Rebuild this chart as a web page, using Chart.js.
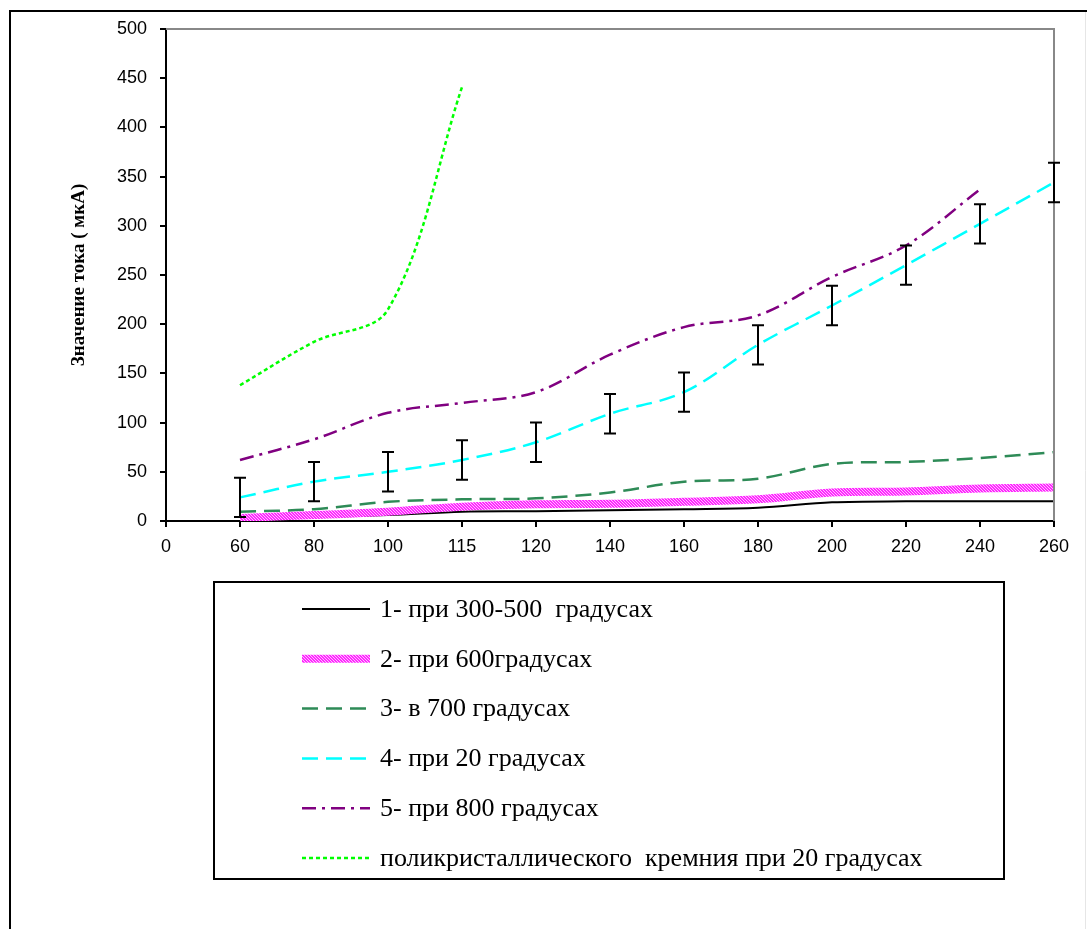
<!DOCTYPE html>
<html>
<head>
<meta charset="utf-8">
<script src="https://cdn.jsdelivr.net/npm/chart.js@4.4.1/dist/chart.umd.min.js"></script>
<style>
  body { margin: 0; background: #fff; }
  #wrap { width: 1087px; height: 929px; }
</style>
</head>
<body>
<div id="wrap"><canvas id="myChart" width="1087" height="929"></canvas></div>
<script>
// x categories (evenly spaced, as in the original)
const labels = ['0', '60', '80', '100', '115', '120', '140', '160', '180', '200', '220', '240', '260']
const yTicks = [0, 50, 100, 150, 200, 250, 300, 350, 400, 450, 500]

const curve1 = [null, 3, 4, 6, 9.5, 10, 11, 12, 13.5, 19, 20, 20, 20]
const curve2 = [null, 3, 6, 9.5, 14.5, 17, 17.5, 19.5, 22, 29, 30, 33, 34]
const curve3 = [null, 9.5, 12, 19.5, 22, 23, 29, 40, 43, 58, 60, 64, 70]
const curve4 = [null, 24, 40, 50, 62, 80, 109, 131, 179, 219, 260, 302, 344]
const curve4Err = [null, 20, 20, 20, 20, 20, 20, 20, 20, 20, 20, 20, 20]
const curve5 = [null, 62, 83, 110, 120, 131, 169, 197, 209, 248, 280, 337, null]
const curve6 = [null, 138, 182, 215, 441, null, null, null, null, null, null, null, null]

const names = [
    '1- при 300-500  градусах',
    '2- при 600градусах',
    '3- в 700 градусах',
    '4- при 20 градусах',
    '5- при 800 градусах',
    'поликристаллического  кремния при 20 градусах'
]
const yTitle = 'Значение тока ( мкА)'

// pink dotted stroke for curve 2
function makePattern() {
    const c = document.createElement('canvas')
    c.width = 3
    c.height = 3
    const g = c.getContext('2d')
    g.fillStyle = 'rgb(255, 40, 255)'
    g.fillRect(0, 0, 3, 3)
    g.fillStyle = 'rgb(255, 190, 255)'
    g.fillRect(0, 0, 1, 1)
    g.fillRect(1, 1, 1, 1)
    g.fillRect(2, 2, 1, 1)
    return g.createPattern(c, 'repeat')
}
const pinkPattern = makePattern()

const extras = {
    id: 'extras',
    beforeDraw(chart) {
        const ctx = chart.ctx
        ctx.save()
        ctx.fillStyle = '#fff'
        ctx.fillRect(0, 0, chart.width, chart.height)
        ctx.restore()
    },
    afterDraw(chart) {
        const ctx = chart.ctx
        const a = chart.chartArea
        const x = chart.scales.x
        const y = chart.scales.y
        ctx.save()
        // gray top / right border of plot area
        ctx.strokeStyle = '#888'
        ctx.lineWidth = 2
        ctx.beginPath()
        ctx.moveTo(a.left, a.top)
        ctx.lineTo(a.right, a.top)
        ctx.lineTo(a.right, a.bottom)
        ctx.stroke()

        // error bars on curve 4
        ctx.strokeStyle = '#000'
        ctx.lineWidth = 2
        curve4.forEach((v, i) => {
            if (v == null || curve4Err[i] == null) return
            const px = x.getPixelForValue(i)
            const top = y.getPixelForValue(v + curve4Err[i])
            const bot = y.getPixelForValue(Math.max(v - curve4Err[i], 0))
            ctx.beginPath()
            ctx.moveTo(px, top)
            ctx.lineTo(px, bot)
            ctx.moveTo(px - 6, top)
            ctx.lineTo(px + 6, top)
            ctx.moveTo(px - 6, bot)
            ctx.lineTo(px + 6, bot)
            ctx.stroke()
        })

        // outer frame (top and left only)
        ctx.beginPath()
        ctx.moveTo(10, 929)
        ctx.lineTo(10, 11)
        ctx.lineTo(1087, 11)
        ctx.stroke()
        ctx.strokeStyle = '#e6e6e6'
        ctx.lineWidth = 1
        ctx.beginPath()
        ctx.moveTo(1085.5, 12)
        ctx.lineTo(1085.5, 929)
        ctx.stroke()

        // legend box
        ctx.strokeStyle = '#000'
        ctx.lineWidth = 2
        ctx.strokeRect(214, 582, 790, 297)
        ctx.font = '26px "Liberation Serif", serif'
        ctx.fillStyle = '#000'
        ctx.textBaseline = 'middle'
        chart.data.datasets.forEach((ds, i) => {
            const ly = 609 + i * 49.8
            ctx.save()
            ctx.strokeStyle = ds.borderColor
            ctx.lineWidth = ds.borderWidth
            ctx.setLineDash(ds.borderDash || [])
            ctx.beginPath()
            ctx.moveTo(302, ly)
            ctx.lineTo(370, ly)
            ctx.stroke()
            ctx.restore()
            ctx.fillText(ds.label, 380, ly + 1)
        })
        ctx.restore()
    }
}

const ctx = document.getElementById('myChart').getContext('2d')
Chart.defaults.font.family = '"Liberation Sans", Arial, sans-serif'
Chart.defaults.color = '#000'

new Chart(ctx, {
    type: 'line',
    data: {
        labels: labels,
        datasets: [
            {
                label: names[0],
                data: curve1,
                borderColor: '#000',
                borderWidth: 2,
                order: 2
            },
            {
                label: names[1],
                data: curve2,
                borderColor: pinkPattern,
                borderWidth: 8,
                order: 1
            },
            {
                label: names[2],
                data: curve3,
                borderColor: '#2e8b57',
                borderWidth: 2.5,
                borderDash: [16, 8],
                order: 1
            },
            {
                label: names[3],
                data: curve4,
                borderColor: '#00ffff',
                borderWidth: 2.5,
                borderDash: [16, 8],
                order: 1
            },
            {
                label: names[4],
                data: curve5,
                borderColor: '#800080',
                borderWidth: 2.5,
                borderDash: [14, 6, 3, 6],
                order: 1
            },
            {
                label: names[5],
                data: curve6,
                borderColor: '#00ff00',
                borderWidth: 2.5,
                borderDash: [4, 3],
                order: 1
            }
        ]
    },
    options: {
        responsive: false,
        animation: false,
        devicePixelRatio: 1,
        elements: {
            point: { radius: 0 },
            line: { tension: 0.35, fill: false, borderCapStyle: 'butt' }
        },
        layout: {
            padding: { left: 0, top: 29, right: 33, bottom: 368 }
        },
        plugins: {
            legend: { display: false },
            tooltip: { enabled: false }
        },
        scales: {
            x: {
                type: 'category',
                offset: false,
                grid: {
                    display: true,
                    drawOnChartArea: false,
                    drawTicks: true,
                    tickLength: 6,
                    color: '#000',
                    lineWidth: 2
                },
                border: { display: true, color: '#000', width: 2 },
                ticks: {
                    font: { size: 18 },
                    padding: 9,
                    maxRotation: 0,
                    autoSkip: false
                },
                afterFit(scale) { scale.height = 40 }
            },
            y: {
                min: 0,
                max: 500,
                afterBuildTicks(scale) {
                    scale.ticks = yTicks.map(v => ({ value: v }))
                },
                grid: {
                    display: true,
                    drawOnChartArea: false,
                    drawTicks: true,
                    tickLength: 6,
                    color: '#000',
                    lineWidth: 2
                },
                border: { display: true, color: '#000', width: 2 },
                ticks: {
                    font: { size: 18 },
                    padding: 13
                },
                title: {
                    display: true,
                    text: yTitle,
                    font: { family: '"Liberation Serif", serif', size: 19, weight: 'bold' },
                    padding: { top: 68, bottom: 0 }
                },
                afterFit(scale) { scale.width = 166 }
            }
        }
    },
    plugins: [extras]
})
</script>
</body>
</html>
